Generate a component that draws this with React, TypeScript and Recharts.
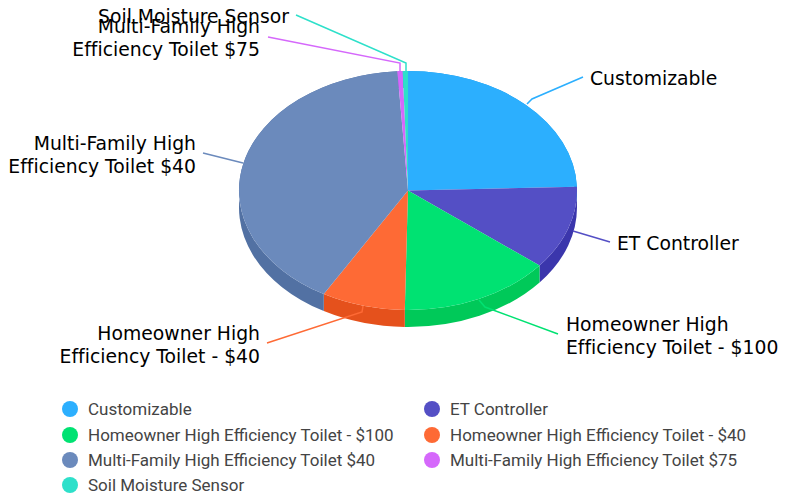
import React from "react";
import { PieChart, Pie, Legend } from "recharts";

const categories = [
  "Customizable",
  "ET Controller",
  "Homeowner High Efficiency Toilet - $100",
  "Homeowner High Efficiency Toilet - $40",
  "Multi-Family High Efficiency Toilet $40",
  "Multi-Family High Efficiency Toilet $75",
  "Soil Moisture Sensor",
];
const values = [24.5, 11.3, 14.5, 8.0, 40.7, 0.5, 0.5];
const colors = ["#2caffe", "#544fc5", "#00e272", "#fe6a35", "#6b8abc", "#d568fb", "#2ee0ca"];
const wallColors = ["#1396e5", "#3b36ac", "#00c959", "#e5511c", "#5271a3", "#bc4fe2", "#15c7b1"];
const labelLines = [
  ["Customizable"],
  ["ET Controller"],
  ["Homeowner High", "Efficiency Toilet - $100"],
  ["Homeowner High", "Efficiency Toilet - $40"],
  ["Multi-Family High", "Efficiency Toilet $40"],
  ["Multi-Family High", "Efficiency Toilet $75"],
  ["Soil Moisture Sensor"],
];

// where each callout goes: start of the line on the pie, elbow, end of line, text anchor
const callouts = [
  { start: [527, 104], elbow: [532, 99], end: [583, 77], text: [590, 84.5], anchor: "start" },
  { start: [573, 231], elbow: [573, 231], end: [610, 242], text: [617, 250], anchor: "start" },
  { start: [479, 300], elbow: [485, 307], end: [558, 334], text: [566, 331], anchor: "start" },
  { start: [363, 306], elbow: [362, 312], end: [267, 343], text: [260, 340], anchor: "end" },
  { start: [243, 163], elbow: [243, 163], end: [203, 153], text: [196, 150], anchor: "end" },
  { start: [400, 71], elbow: [400, 63], end: [268, 37], text: [260, 33], anchor: "end" },
  { start: [406, 71], elbow: [406, 63], end: [296, 15], text: [289, 23], anchor: "end" },
];

const TILT = 119.5 / 169;
const DEPTH = 17;
const RAD = Math.PI / 180;

const chartData = categories.map((name, i) => ({ name, value: values[i], fill: colors[i] }));
const wallData = categories.map((name, i) => ({ name, value: values[i], fill: wallColors[i] }));

const pt = (cx: number, cy: number, r: number, a: number) => [
  cx + r * Math.cos(a * RAD),
  cy - r * TILT * Math.sin(a * RAD),
];

const TopSlice = (props: any) => {
  const { cx, cy, outerRadius: r, startAngle, endAngle, fill } = props;
  const [x1, y1] = pt(cx, cy, r, startAngle);
  const [x2, y2] = pt(cx, cy, r, endAngle);
  const large = Math.abs(startAngle - endAngle) > 180 ? 1 : 0;
  return (
    <path
      d={`M${cx} ${cy}L${x1} ${y1}A${r} ${r * TILT} 0 ${large} 1 ${x2} ${y2}Z`}
      fill={fill}
    />
  );
};

const WallSlice = (props: any) => {
  const { cx, cy, outerRadius: r, startAngle, endAngle, fill } = props;
  const [x1, y1] = pt(cx, cy, r, startAngle);
  const [x2, y2] = pt(cx, cy, r, endAngle);
  const large = Math.abs(startAngle - endAngle) > 180 ? 1 : 0;
  const ry = r * TILT;
  return (
    <path
      d={`M${x1} ${y1}A${r} ${ry} 0 ${large} 1 ${x2} ${y2}L${x2} ${y2 + DEPTH}A${r} ${ry} 0 ${large} 0 ${x1} ${y1 + DEPTH}Z`}
      fill={fill}
    />
  );
};

const Callout = (props: any) => {
  const { index } = props;
  const c = callouts[index];
  return (
    <g>
      <polyline
        points={`${c.start} ${c.elbow} ${c.end}`}
        fill="none"
        stroke={colors[index]}
        strokeWidth={1.5}
      />
      <text
        x={c.text[0]}
        y={c.text[1]}
        textAnchor={c.anchor}
        fontFamily="DejaVu Sans"
        fontSize={18.8}
        fill="#000"
        style={{ fontVariantLigatures: "none" }}
      >
        {labelLines[index].map((line, i) => (
          <tspan key={i} x={c.text[0]} dy={i === 0 ? 0 : 23}>
            {line}
          </tspan>
        ))}
      </text>
    </g>
  );
};

const LegendBox = ({ payload }: any) => (
  <div
    style={{
      display: "grid",
      gridTemplateColumns: "362px 340px",
      gridAutoRows: "25.4px",
      fontFamily: "Roboto",
      fontSize: 17,
      color: "#444",
    }}
  >
    {(payload || [])
      .filter((item: any) => item.type !== "none")
      .map((item: any, i: number) => (
        <div key={i} style={{ display: "flex", alignItems: "center" }}>
          <span
            style={{
              width: 16,
              height: 16,
              borderRadius: 8,
              marginRight: 10,
              background: colors[i],
            }}
          />
          {item.value}
        </div>
      ))}
  </div>
);

export default function App() {
  return (
    <div style={{ position: "absolute", left: 0, top: 0, width: 797, height: 494, background: "#fff" }}>
      <PieChart width={797} height={494} margin={{ top: 0, right: 0, bottom: 0, left: 0 }}>
        <Pie
          data={wallData}
          dataKey="value"
          nameKey="name"
          cx={408}
          cy={190.5}
          outerRadius={169}
          startAngle={90}
          endAngle={-270}
          shape={WallSlice}
          legendType="none"
          stroke="none"
          isAnimationActive={false}
        />
        <Pie
          data={chartData}
          dataKey="value"
          nameKey="name"
          cx={408}
          cy={190.5}
          outerRadius={169}
          startAngle={90}
          endAngle={-270}
          shape={TopSlice}
          label={Callout}
          labelLine={false}
          stroke="none"
          isAnimationActive={false}
        />
        <Legend
          content={LegendBox}
          layout="horizontal"
          verticalAlign="middle"
          align="center"
          wrapperStyle={{ left: 62, top: 396.5, width: 720 }}
        />
      </PieChart>
    </div>
  );
}
